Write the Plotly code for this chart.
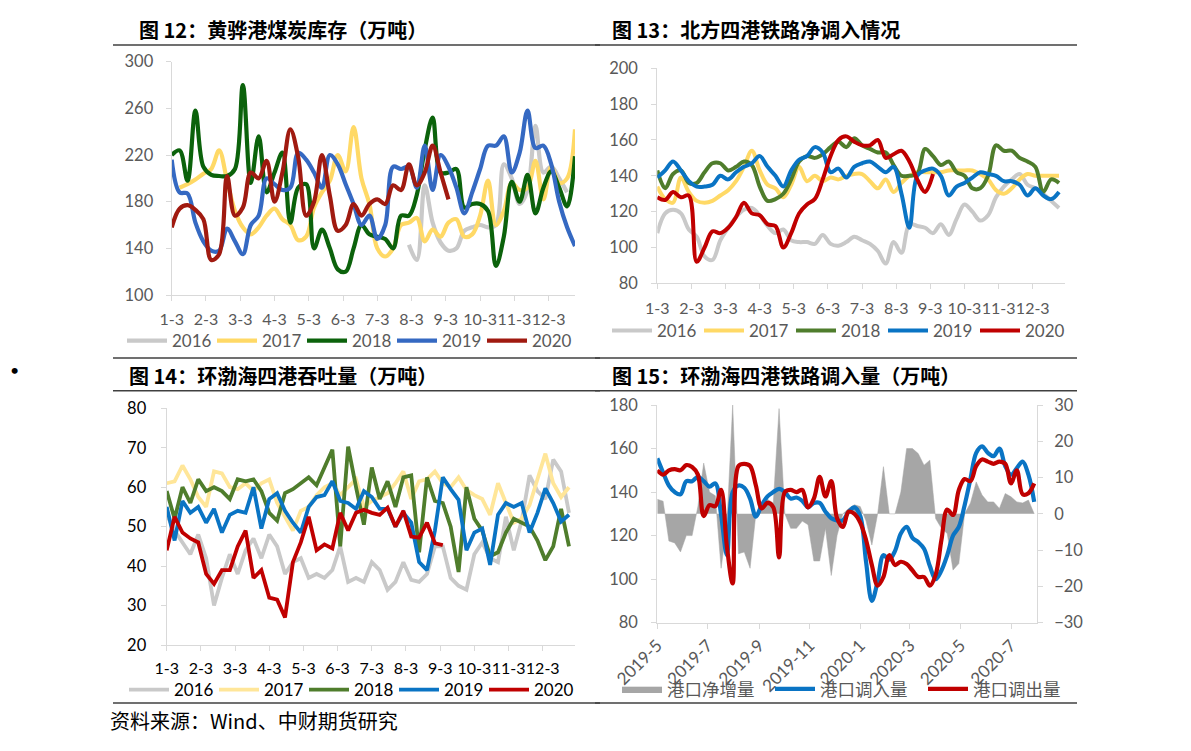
import pandas as pd
import plotly.graph_objects as go

# page body keeps its default 8px margin, so the figure is drawn 8px in from the corner
OFF = 8
W, H = 1191 - 2 * OFF, 751 - 2 * OFF
NUM_FONT = "Lato, Noto Sans CJK SC, sans-serif"
CJK_FONT = "Noto Sans CJK SC, sans-serif"

# x-axis labels (weekly data, one label per month)
MONTHS = ["1-3", "2-3", "3-3", "4-3", "5-3", "6-3", "7-3", "8-3", "9-3", "10-3", "11-3", "12-3"]
YEARS = ["2016", "2017", "2018", "2019", "2020"]

# Fig 12: Huanghua port coal stock (10k t), weekly
hh_2016 = [None] * 30 + [143, 130, 194, 162, 145, 138, 140, 155, 158, 160, 158, 160, 212, 200, 178,
                         190, 245, 205, 210, 200, 188]
hh_2017 = [None, 192, 195, 199, 204, 208, 224, 198, 172, 158, 152, 158, 168, 174, 165, 160, 147, 150,
           175, 188, 198, 220, 206, 244, 200, 178, 140, 133, 140, 160, 162, 166, 146, 156, 150, 162,
           165, 150, 152, 168, 198, 160, 172, 196, 190, 192, 215, 182, 210, 196, 200, 242]
hh_2018 = [220, 224, 198, 258, 210, 203, 202, 202, 208, 280, 196, 236, 188, 205, 222, 162, 192, 195,
           140, 156, 140, 122, 120, 140, 160, 152, 150, 148, 140, 168, 168, 186, 225, 252, 205, 205,
           208, 175, 178, 178, 172, 125, 150, 197, 180, 203, 170, 192, 206, 192, 176, 219]
hh_2019 = [216, 188, 187, 162, 146, 138, 138, 157, 146, 135, 160, 168, 200, 195, 190, 192, 222, 216,
           205, 192, 220, 212, 195, 178, 160, 168, 148, 160, 210, 208, 210, 192, 228, 190, 220, 210,
           192, 170, 188, 208, 228, 228, 236, 205, 222, 258, 226, 228, 212, 180, 158, 142]
hh_2020 = [158, 174, 177, 173, 165, 130, 135, 202, 168, 175, 205, 200, 215, 180, 205, 242, 218, 168,
           180, 220, 185, 155, 160, 178, 168, 178, 182, 178, 194, 190, 212, 194, 205, 228, 205, 182]

# Fig 13: northern four ports rail net inflow
rail_2016 = [108, 119, 121, 119, 110, 106, 95, 93, 104, 111, 117, 121, 122, 118, 112, 108, 110, 104,
             103, 103, 102, 107, 102, 101, 103, 106, 104, 102, 98, 91, 103, 97, 113, 112, 111, 108,
             113, 107, 116, 124, 120, 115, 118, 128, 134, 138, 141, 135, 133, 130, 126, 122]
rail_2017 = [134, 127, 125, 139, 131, 126, 125, 126, 129, 132, 137, 145, 154, 143, 135, 133, 128, 135,
             145, 137, 140, 137, 139, 138, 140, 141, 141, 137, 133, 138, 131, 136, 140, 142, 142, 142,
             142, 143, 143, 143, 143, 141, 138, 132, 130, 133, 138, 141, 140, 140, 140, 140]
rail_2018 = [143, 133, 141, 143, 136, 136, 142, 147, 147, 143, 145, 148, 146, 134, 126, 127, 130, 138,
             148, 151, 150, 152, 156, 159, 156, 161, 157, 155, 153, 153, 146, 140, 140, 141, 155, 151,
             146, 148, 142, 140, 133, 133, 140, 157, 154, 154, 150, 148, 145, 131, 138, 136]
rail_2019 = [139, 143, 148, 143, 137, 134, 134, 135, 140, 138, 142, 145, 147, 151, 145, 140, 134, 143,
             149, 151, 156, 153, 142, 144, 139, 145, 147, 148, 145, 142, 145, 130, 111, 140, 143, 144,
             140, 129, 134, 136, 139, 142, 141, 140, 137, 137, 135, 129, 133, 129, 127, 131]
rail_2020 = [128, 126.5, 131, 128, 129, 92, 100, 109, 108, 111, 117, 125, 119, 118, 113, 112, 100, 108,
             119, 124, 127, 138, 151, 160, 162, 159, 157, 157, 160, 150, 152, 154, 148, 138, 131, 141]

# Fig 14: Bohai-rim four ports throughput
tp_2016 = [53, 49, 46, 43, 48, 42, 30, 37, 43, 38, 44, 47, 42, 48, 45, 38, 41, 42, 37, 38, 37, 39, 45,
           36, 37, 36, 41, 39, 34, 36, 41, 36.5, 36, 38, 45, 45, 37, 35, 34, 43, 46, 42, 41, 52.5, 44,
           51.5, 63, 59, 57, 67, 64, 53.5]
tp_2017 = [61, 61.5, 65.5, 62, 57.5, 55, 64, 63.5, 60, 59.5, 61, 59, 61, 62, 56, 52.5, 49, 54, 55, 58,
           60, 61, 58, 60, 62, 55, 56.5, 57.5, 58.5, 61, 64, 57, 61.5, 62, 64, 61, 60, 62.5, 59.3, 58,
           57, 53, 61, 56, 51, 52, 55.5, 62, 68.5, 61, 57.5, 60]
tp_2018 = [59, 52, 60, 56, 62, 59, 60, 59, 57, 62, 61.5, 62, 59, 53.5, 51.5, 58.5, 59.5, 61, 62.5, 60.5,
           65, 69.5, 45, 70.3, 60, 50.5, 65, 57, 61.5, 55, 62.5, 63, 43.5, 62.5, 56.5, 56, 50, 38.5, 60,
           52, 49, 42.5, 43.5, 48.5, 52, 51, 50, 46.5, 41.5, 45, 54.5, 45]
tp_2019 = [55, 46.5, 56.5, 53.5, 55, 51, 54.5, 48.5, 53, 54, 53.5, 60, 49.5, 57, 58.5, 54, 51, 48.5, 55,
           57.5, 58, 61.5, 56.5, 56, 54.5, 59, 57.5, 54.5, 54.5, 50, 53.5, 51, 41, 39, 49, 62.5, 59.5,
           56.8, 44, 48.5, 49.5, 40.3, 53, 56, 55, 56, 48.5, 53.5, 59.7, 56, 51.3, 53]
tp_2020 = [44, 52.5, 48.5, 47, 46, 38, 35.5, 39, 39, 45, 49, 37, 39, 32, 31.5, 27, 41, 46, 52.5, 44,
           45.5, 44.5, 53.5, 49, 53.5, 54.3, 53.5, 53, 54.8, 50, 54, 47.5, 47.2, 51, 45.8, 45.3]

# Fig 15: Bohai-rim four ports rail in/out, weekly from 2019-05
week_start = "2019-05-01"
port_net = [4, 3.5, -7.5, -8, -10.5, -6, -6, 2, 14, 6, 5, -15, -3, 30, -11, -10.5, -15, 0, 3, 4,
            3, 29, 0, -4, -4, -2, -3, -13, -13, -4, -17, -6, 0, 1.5, 2.5, 2, -2, -8.6, 0, 13,
            0, 0, 6, 18, 18, 16.6, 13.4, 14.8, -1.3, -4, -5.4, -15.5, -13.7, 0, 3, 8.8, 5.2, 3.3, 3.3, 1.5,
            5.6, 4.7, 3.3, 3, 3.8, 0]
port_in = [155.5, 149, 143, 140, 139, 145, 145, 147, 145, 142.5, 144, 129.5, 111, 140, 143, 142, 137,
           128.7, 134, 138, 140, 141.5, 140, 137, 137.5, 136, 133, 135, 135, 131, 128, 127,
           127, 131, 133, 129, 108, 90, 99, 111, 109, 113, 121, 124, 119, 117, 114, 106, 100, 104,
           111, 120, 124, 134, 146, 158, 161, 158, 156.5, 160, 152, 148, 151, 154, 148, 135.5]
port_out = [150, 148, 150, 150.5, 150, 152.4, 151.5, 148, 129, 134, 133.5, 141, 115, 98, 152, 153, 152,
            143, 132.5, 135, 133, 110, 140, 141, 140, 141, 133, 137, 147, 138, 145, 128, 124, 131, 130,
            126, 118, 106.5, 97, 101, 111, 106.5, 108, 107, 104, 101, 101, 97, 102, 118, 132, 129.5,
            141, 146, 145, 152, 155, 154, 153, 154, 153, 144, 150, 139, 139.5, 144]
dates = pd.date_range(week_start, periods=len(port_in), freq="7D")


def px(x):
    return (x - OFF) / W


def py(y):
    return 1 - (y - OFF) / H


fig = go.Figure()

# year panels
panels = [
    ("x", "y", "legend", [hh_2016, hh_2017, hh_2018, hh_2019, hh_2020],
     ["#C9C9C9", "#FFD966", "#0B620B", "#3569C2", "#A01A10"], 4.2, "spline"),
    ("x2", "y2", "legend2", [rail_2016, rail_2017, rail_2018, rail_2019, rail_2020],
     ["#C9C9C9", "#FFD966", "#4F7D2C", "#0A74C4", "#C00000"], 4, "spline"),
    ("x3", "y3", "legend3", [tp_2016, tp_2017, tp_2018, tp_2019, tp_2020],
     ["#C9C9C9", "#FFE699", "#4F7D2C", "#0A74C4", "#C00000"], 3.8, "linear"),
]
for xa, ya, leg, series, colors, lw, shape in panels:
    for name, vals, c in zip(YEARS, series, colors):
        fig.add_trace(go.Scatter(x=list(range(len(vals))), y=vals, name=name, mode="lines",
                                 line=dict(color=c, width=lw, shape=shape),
                                 xaxis=xa, yaxis=ya, legend=leg))

fig.add_trace(go.Scatter(x=dates, y=port_net, name="港口净增量", mode="lines", fill="tozeroy",
                         fillcolor="#A6A6A6", line=dict(color="#A6A6A6", width=0.5),
                         xaxis="x4", yaxis="y4", legend="legend4"))
fig.add_trace(go.Scatter(x=dates, y=port_in, name="港口调入量", mode="lines",
                         line=dict(color="#0A74C4", width=4.2, shape="spline"),
                         xaxis="x4", yaxis="y5", legend="legend4"))
fig.add_trace(go.Scatter(x=dates, y=port_out, name="港口调出量", mode="lines",
                         line=dict(color="#C00000", width=4.2, shape="spline"),
                         xaxis="x4", yaxis="y5", legend="legend4"))

GRAY = "#595959"
AX = dict(showline=True, linecolor="#D9D9D9", linewidth=1.3, ticks="outside", ticklen=5,
          tickcolor="#D9D9D9", showgrid=False, zeroline=False,
          tickfont=dict(family=NUM_FONT, size=16.5, color=GRAY))
AX_BLACK = dict(AX, tickfont=dict(family=NUM_FONT, size=16.5, color="#000000"))
XTICK = dict(family=NUM_FONT, size=16, color=GRAY)
week_ticks = [m * 52 / 12 for m in range(12)]

fig.update_layout(
    width=W, height=H, margin=dict(l=0, r=0, t=0, b=0, autoexpand=False),
    paper_bgcolor="white", plot_bgcolor="white",
    xaxis=dict(AX, domain=[px(171.7), px(575)], range=[0, 51], anchor="y", tickangle=0,
               tickvals=week_ticks, ticktext=MONTHS, ticklabelstandoff=5, tickfont=XTICK),
    yaxis=dict(AX, domain=[py(295), py(61.7)], range=[100, 300], tick0=100, dtick=40, anchor="x",
               ticklabelstandoff=9),
    xaxis2=dict(AX, domain=[px(657.3), px(1065)], range=[0, 51.76], anchor="y2", tickangle=0,
                tickvals=week_ticks, ticktext=MONTHS, ticklabelstandoff=5, tickfont=XTICK),
    yaxis2=dict(AX, domain=[py(283.3), py(68.3)], range=[80, 200], dtick=20, anchor="x2",
                ticklabelstandoff=10),
    xaxis3=dict(AX_BLACK, domain=[px(166.7), px(575)], range=[0, 51.76], anchor="y3", tickangle=0,
                tickvals=week_ticks, ticktext=MONTHS, ticklabelstandoff=4,
                tickfont=dict(XTICK, color="#000000")),
    yaxis3=dict(AX_BLACK, domain=[py(645), py(408.3)], range=[20, 80], dtick=10, anchor="x3",
                ticklabelstandoff=11),
    xaxis4=dict(AX, type="date", domain=[px(657.3), px(1036.7)],
                range=["2019-05-01", "2020-08-01"], dtick="M2", tick0="2019-05-01",
                tickformat="%Y-%-m", tickangle=-45, anchor="y4",
                tickfont=dict(family=NUM_FONT, size=17, color=GRAY)),
    yaxis4=dict(AX, domain=[py(622.7), py(405)], range=[-30, 30], dtick=10, side="right",
                anchor="x4", ticklabelstandoff=8),
    yaxis5=dict(AX, range=[80, 180], dtick=20, overlaying="y4", side="left", anchor="x4",
                ticklabelstandoff=10),
    showlegend=True,
)

LEG = dict(orientation="h", xanchor="left", yanchor="middle", bgcolor="rgba(0,0,0,0)",
           itemwidth=40, entrywidth=35, entrywidthmode="pixels",
           font=dict(family=NUM_FONT, size=17, color=GRAY), itemclick=False)
fig.update_layout(
    legend=dict(LEG, x=px(122), y=py(341)),
    legend2=dict(LEG, x=px(607), y=py(331), entrywidth=37),
    legend3=dict(LEG, x=px(124), y=py(690), font=dict(family=NUM_FONT, size=17, color="#000")),
    legend4=dict(LEG, x=px(617), y=py(689), entrywidth=98,
                 font=dict(family=CJK_FONT, size=17.5, color=GRAY)),
)

# panel titles
titles = [
    ("图 12：黄骅港煤炭库存（万吨）", 137, 30),
    ("图 13：北方四港铁路净调入情况", 610, 30),
    ("图 14：环渤海四港吞吐量（万吨）", 127, 375),
    ("图 15：环渤海四港铁路调入量（万吨）", 610, 375),
]
for text, x, y in titles:
    fig.add_annotation(text="<b>" + text + "</b>", x=px(x), y=py(y), xref="paper", yref="paper",
                       xanchor="left", yanchor="middle", showarrow=False,
                       font=dict(family=CJK_FONT, size=20, color="#000"))

# rules above and below each panel
for x0, x1 in [(113, 600), (595, 1077)]:
    for y in [45, 358, 390.7, 703]:
        fig.add_shape(type="line", xref="paper", yref="paper", x0=px(x0), x1=px(x1),
                      y0=py(y), y1=py(y), line=dict(color="#404040", width=1.5))

fig.add_annotation(text="资料来源：Wind、中财期货研究", x=px(108), y=py(720), xref="paper", yref="paper",
                   xanchor="left", yanchor="middle", showarrow=False,
                   font=dict(family=CJK_FONT, size=20, color="#000"))
fig.add_annotation(text="•", x=px(8), y=py(369), xref="paper", yref="paper",
                   xanchor="left", yanchor="middle", showarrow=False,
                   font=dict(family=NUM_FONT, size=16, color="#000"))

fig.write_html("out.html")
